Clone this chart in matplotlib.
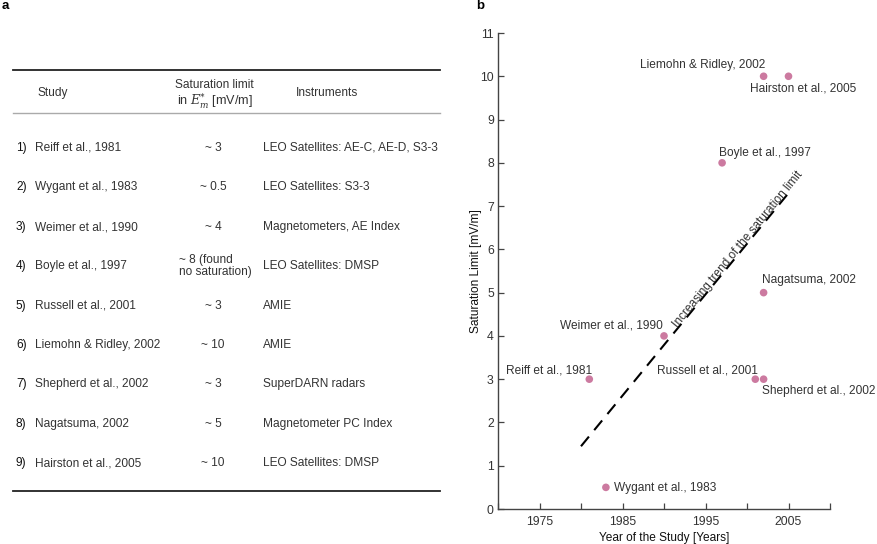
import matplotlib
matplotlib.use("Agg")
import matplotlib.pyplot as plt

plt.rcParams['font.family'] = ['Liberation Sans', 'DejaVu Sans']
plt.rcParams['mathtext.fontset'] = 'dejavuserif'

# ---------------- data ----------------
row_nums = ["1)", "2)", "3)", "4)", "5)", "6)", "7)", "8)", "9)"]
studies = ["Reiff et al., 1981", "Wygant et al., 1983", "Weimer et al., 1990",
           "Boyle et al., 1997", "Russell et al., 2001", "Liemohn & Ridley, 2002",
           "Shepherd et al., 2002", "Nagatsuma, 2002", "Hairston et al., 2005"]
limits_text = ["~ 3", "~ 0.5", "~ 4", "~ 8 (found\nno saturation)", "~ 3", "~ 10",
               "~ 3", "~ 5", "~ 10"]
instruments = ["LEO Satellites: AE-C, AE-D, S3-3", "LEO Satellites: S3-3",
               "Magnetometers, AE Index", "LEO Satellites: DMSP", "AMIE", "AMIE",
               "SuperDARN radars", "Magnetometer PC Index", "LEO Satellites: DMSP"]

years = [1981, 1983, 1990, 1997, 2001, 2002, 2002, 2002, 2005]
limits = [3, 0.5, 4, 8, 3, 10, 3, 5, 10]
point_labels = ["Reiff et al., 1981", "Wygant et al., 1983", "Weimer et al., 1990",
                "Boyle et al., 1997", "Russell et al., 2001", "Liemohn & Ridley, 2002",
                "Shepherd et al., 2002", "Nagatsuma, 2002", "Hairston et al., 2005"]
trend_x = [1980, 2005]
trend_y = [1.45, 7.3]

xticks = [1970, 1975, 1980, 1985, 1990, 1995, 2000, 2005, 2010]
xticklabels = ["", "1975", "", "1985", "", "1995", "", "2005", ""]
yticks = list(range(0, 12))

TXT = "#333333"
PINK = "#cc7aa0"

W, H = 877, 544
fig = plt.figure(figsize=(W / 100, H / 100), dpi=100)

def fx(px):
    return px / W

def fy(py):
    return 1 - py / H

fs = 8.6
tfs = 8.8

# ---------------- panel a (table) ----------------
fig.text(fx(2), fy(0), "a", fontsize=9.5, fontweight="bold", va="top", ha="left", color="black")
fig.add_artist(plt.Line2D([fx(13), fx(440)], [fy(70), fy(70)], color="#222222", lw=1.3))
fig.add_artist(plt.Line2D([fx(13), fx(440)], [fy(113), fy(113)], color="#aaaaaa", lw=1.0))
fig.add_artist(plt.Line2D([fx(13), fx(440)], [fy(491), fy(491)], color="#222222", lw=1.3))

fig.text(fx(37), fy(93), "Study", fontsize=fs, color=TXT, va="center", ha="left")
fig.text(fx(214.5), fy(85), "Saturation limit", fontsize=fs, color=TXT, va="center", ha="center")
fig.text(fx(215), fy(101), r"in $\mathbf{\mathit{E}}^{*}_{\mathit{m}}$ [mV/m]", fontsize=fs + 0.5,
         color=TXT, va="center", ha="center")
fig.text(fx(296), fy(93), "Instruments", fontsize=fs, color=TXT, va="center", ha="left")

row_y = [148, 187, 227, 266, 306, 345, 384, 424, 463]
for i in range(len(studies)):
    y = fy(row_y[i])
    fig.text(fx(16), y, row_nums[i], fontsize=fs, color="#111111", va="center", ha="left")
    fig.text(fx(35), y, studies[i], fontsize=fs, color=TXT, va="center", ha="left")
    if "\n" in limits_text[i]:
        fig.text(fx(179), y, limits_text[i], fontsize=fs, color=TXT, va="center",
                 ha="left", linespacing=1.0, multialignment="left")
    else:
        fig.text(fx(213), y, limits_text[i], fontsize=fs, color=TXT, va="center", ha="center")
    fig.text(fx(263), y, instruments[i], fontsize=fs, color=TXT, va="center", ha="left")

# ---------------- panel b (scatter) ----------------
fig.text(fx(476), fy(0), "b", fontsize=9.5, fontweight="bold", va="top", ha="left", color="black")
ax = fig.add_axes([fx(498), fy(509), fx(830) - fx(498), fy(33) - fy(509)])
ax.set_xlim(1970, 2010)
ax.set_ylim(0, 11)
for s in ["top", "right"]:
    ax.spines[s].set_visible(False)
for s in ["left", "bottom"]:
    ax.spines[s].set_color("#444444")
    ax.spines[s].set_linewidth(1.0)
ax.set_xticks(xticks)
ax.set_xticklabels(xticklabels)
ax.set_yticks(yticks)
ax.tick_params(axis="both", direction="in", length=4, width=0.9, color="#444444",
               labelsize=tfs, labelcolor=TXT)
ax.tick_params(axis="y", pad=3)
ax.tick_params(axis="x", pad=5)

ax.plot(trend_x, trend_y, color="black", lw=1.5, ls=(0, (6, 4)), zorder=2)
ax.scatter(years, limits, s=30, color=PINK, edgecolor="none", zorder=3)

# label placement (left edge / vertical center in data coords)
label_pos = {
    "Reiff et al., 1981": (1971.0, 3.21, "left"),
    "Wygant et al., 1983": (1984.0, 0.49, "left"),
    "Weimer et al., 1990": (1977.5, 4.25, "left"),
    "Boyle et al., 1997": (1996.6, 8.23, "left"),
    "Russell et al., 2001": (1989.2, 3.21, "left"),
    "Liemohn & Ridley, 2002": (1987.1, 10.26, "left"),
    "Shepherd et al., 2002": (2001.8, 2.73, "left"),
    "Nagatsuma, 2002": (2001.8, 5.29, "left"),
    "Hairston et al., 2005": (2000.4, 9.71, "left"),
}
for lab in point_labels:
    x, y, ha = label_pos[lab]
    ax.text(x, y, lab, fontsize=fs, color=TXT, va="center", ha=ha)

ax.text(1998.9, 6.0, "Increasing trend of the saturation limit", fontsize=fs, color=TXT,
        rotation=50.8, rotation_mode="anchor", ha="center", va="center")

ax.set_xlabel("Year of the Study [Years]", fontsize=fs, color="#111111", labelpad=3)
ax.set_ylabel("Saturation Limit [mV/m]", fontsize=fs, color="#111111")
ax.yaxis.set_label_coords(-0.048, 0.5)

fig.savefig("out.png", dpi=100, facecolor="white")
